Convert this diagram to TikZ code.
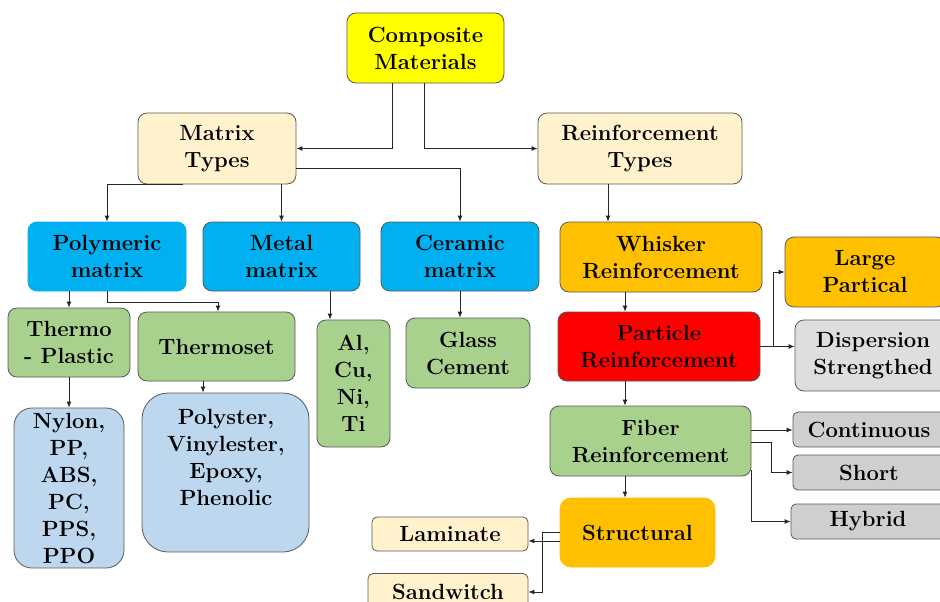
\documentclass[tikz,border=0pt]{standalone}
\usetikzlibrary{arrows.meta}
\definecolor{cYellow}{HTML}{FFFF00}
\definecolor{cCream}{HTML}{FFF2CC}
\definecolor{cBlue}{HTML}{00B0F0}
\definecolor{cOrange}{HTML}{FFC000}
\definecolor{cRed}{HTML}{FF0000}
\definecolor{cGreen}{HTML}{A9D18E}
\definecolor{cLightBlue}{HTML}{BDD7EE}
\definecolor{cGrey}{HTML}{D0CECE}
\definecolor{cLightGrey}{HTML}{DEDEDE}
\definecolor{boxline}{HTML}{595959}
\begin{document}
\begin{tikzpicture}[x=1pt,y=-1pt,
  box/.style={draw=boxline, line width=0.8pt, rounded corners=9pt, inner sep=0pt, align=center,
    font=\fontsize{22}{27}\selectfont\bfseries, text=black},
  txt/.style={inner sep=0pt, align=center, font=\fontsize{22}{27}\selectfont\bfseries, text=black},
  arr/.style={draw=black!85, line width=0.9pt, -{Latex[length=6pt,width=5pt]}}]
\useasboundingbox (0,0) rectangle (940,602);
\clip (0,0) rectangle (940,602);

% top levels
\node[box, fill=cYellow, minimum width=157pt, minimum height=70pt] (comp) at (425.5,48) {Composite\\Materials};
\node[box, fill=cCream, minimum width=158pt, minimum height=71pt] (mtypes) at (217,148.5) {Matrix\\Types};
\node[box, fill=cCream, minimum width=204pt, minimum height=71pt] (rtypes) at (640,148.5) {Reinforcement\\Types};

% matrix row
\node[box, fill=cBlue, draw=cBlue, minimum width=158pt, minimum height=69pt] (poly) at (107,256.5) {Polymeric\\matrix};
\node[box, fill=cBlue, minimum width=157pt, minimum height=69pt] (metal) at (281.5,256.5) {Metal\\matrix};
\node[box, fill=cBlue, minimum width=158pt, minimum height=69pt] (ceramic) at (460,256.5) {Ceramic\\matrix};

% reinforcement column
\node[box, fill=cOrange, minimum width=202pt, minimum height=70pt] (whisker) at (661,257) {Whisker\\Reinforcement};
\node[box, fill=cOrange, minimum width=160pt, minimum height=70pt] (large) at (865,272) {Large\\Partical};
\node[box, fill=cRed, minimum width=202pt, minimum height=69pt] (particle) at (659,346.5) {Particle\\Reinforcement};
\node[box, fill=cLightGrey, minimum width=156pt, minimum height=71pt] (disp) at (873,355.5) {Dispersion\\Strengthed};
\node[box, fill=cGreen, minimum width=201pt, minimum height=70pt] (fiber) at (650.5,441) {Fiber\\Reinforcement};
\node[box, fill=cGrey, rounded corners=5pt, minimum width=152pt, minimum height=35pt] (cont) at (869,429.5) {Continuous};
\node[box, fill=cGrey, rounded corners=5pt, minimum width=152pt, minimum height=35pt] (short) at (869,472.5) {Short};
\node[box, fill=cGrey, rounded corners=5pt, minimum width=154pt, minimum height=35pt] (hybrid) at (868,521.5) {Hybrid};
\node[box, fill=cOrange, draw=cOrange, rounded corners=11pt, minimum width=155pt, minimum height=69pt] (struct) at (637.5,532.5) {Structural};
\node[box, fill=cCream, rounded corners=5pt, minimum width=156pt, minimum height=34pt] (laminate) at (450,534) {Laminate};
\node[box, fill=cCream, rounded corners=5pt, minimum width=160pt, minimum height=37pt] (sandwitch) at (448,592) {Sandwitch};

% matrix sub-levels
\node[box, fill=cGreen, minimum width=122pt, minimum height=69pt] (thermop) at (69,342.5) {Thermo\\- Plastic};
\node[box, fill=cGreen, minimum width=157pt, minimum height=69pt] (thermoset) at (216.5,346.5) {Thermoset};
\node[box, fill=cGreen, minimum width=73pt, minimum height=127pt] (alcu) at (353.5,383.5) {Al,\\Cu,\\Ni,\\Ti};
\node[box, fill=cGreen, minimum width=124pt, minimum height=70pt] (glass) at (468,353) {Glass\\Cement};
\node[box, fill=cLightBlue, rounded corners=18pt, minimum width=110pt, minimum height=160pt] (nylon) at (69,488) {Nylon,\\PP,\\ABS,\\PC,\\PPS,\\PPO};
\node[box, fill=cLightBlue, rounded corners=26pt, minimum width=167pt, minimum height=159pt] (polyset) at (225.5,472.5) {};
\node[txt] (polysettxt) at (226,457) {Polyster,\\Vinylester,\\Epoxy,\\Phenolic};

% connectors
\draw[arr] ([xshift=-33.5pt]comp.south) |- (mtypes.east);
\draw[arr] ([xshift=-1.5pt]comp.south) |- (rtypes.west);
\draw[arr] ([yshift=-19.5pt]mtypes.east) -| (ceramic.north);
\draw[arr] (mtypes.south -| metal.north) -- (metal.north);
\draw[arr] ([xshift=-34pt]mtypes.south) -| (poly.north);
\draw[arr] (poly.south -| thermop.north) -- (thermop.north);
\draw[arr] (poly.south) -- ++(0,11) -| ([xshift=1.5pt]thermoset.north);
\draw[arr] ([xshift=48.5pt]metal.south) -- ([xshift=48.5pt]metal.south |- alcu.north);
\draw[arr] (ceramic.south) -- (ceramic.south |- glass.north);
\draw[arr] (thermop.south) -- (nylon.north);
\draw[arr] ([xshift=-13.5pt]thermoset.south) -- ([xshift=-13.5pt]thermoset.south |- polyset.north);
\draw[arr] ([xshift=-32pt]rtypes.south) -- ([xshift=-32pt]rtypes.south |- whisker.north);
\draw[arr] ([xshift=-36pt]whisker.south) -- ([xshift=-36pt]whisker.south |- particle.north);
\draw[arr] (particle.east) -- ++(13,0) |- (large.west);
\draw[arr] (particle.east) -- (particle.east -| disp.west);
\draw[arr] ([xshift=-34pt]particle.south) -- ([xshift=-34pt]particle.south |- fiber.north);
\draw[arr] ([yshift=11pt]fiber.east) -- ([yshift=11pt]fiber.east -| cont.west);
\draw[arr] ([yshift=-1pt]fiber.east) -- ++(20,0) |- (short.west);
\draw[arr] ([yshift=-29pt]fiber.east) |- (hybrid.west);
\draw[arr] ([xshift=-25.5pt]fiber.south) -- ([xshift=-25.5pt]fiber.south |- struct.north);
\draw[arr] ([yshift=-8.5pt]struct.west) -- ([yshift=-8.5pt]struct.west -| laminate.east);
\draw[arr] (struct.west) -- ++(-17,0) |- (sandwitch.east);
\end{tikzpicture}
\end{document}
